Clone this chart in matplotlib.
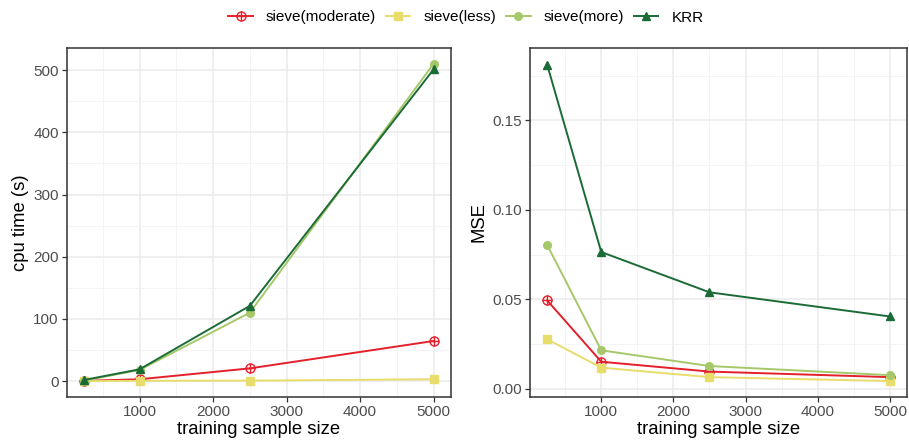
import matplotlib
matplotlib.use("Agg")
import matplotlib.pyplot as plt
from matplotlib.ticker import MultipleLocator, FixedLocator, FormatStrFormatter
from matplotlib.lines import Line2D
from matplotlib.legend_handler import HandlerTuple

plt.rcParams['font.family'] = ['Liberation Sans', 'DejaVu Sans']

n = [250, 1000, 2500, 5000]
series = ["sieve(moderate)", "sieve(less)", "sieve(more)", "KRR"]
cpu = {
    "sieve(moderate)": [0.5, 3, 20.5, 64.5],
    "sieve(less)": [0.1, 0.5, 0.8, 3],
    "sieve(more)": [1, 18, 110, 510],
    "KRR": [2, 19, 121, 501],
}
mse = {
    "sieve(moderate)": [0.0495, 0.0152, 0.0097, 0.0066],
    "sieve(less)": [0.0278, 0.0119, 0.0066, 0.0044],
    "sieve(more)": [0.0805, 0.0216, 0.0128, 0.0077],
    "KRR": [0.1812, 0.0765, 0.0540, 0.0405],
}
colors = {
    "sieve(moderate)": "#E3202B",
    "sieve(less)": "#E8DC6C",
    "sieve(more)": "#A6C86A",
    "KRR": "#1B6B37",
}
markers = {"sieve(less)": "s", "sieve(more)": "o", "KRR": "^"}

fig = plt.figure(figsize=(9.09, 4.43), dpi=100)
W, H = 909, 443
ax1 = fig.add_axes([67 / W, 1 - 397 / H, (451 - 67) / W, (397 - 48) / H])
ax2 = fig.add_axes([530 / W, 1 - 397 / H, (907 - 530) / W, (397 - 48) / H])

handles = []
for ax, data in ((ax1, cpu), (ax2, mse)):
    for s in series:
        c = colors[s]
        if s == "sieve(moderate)":
            ax.plot(n, data[s], color=c, lw=1.4, marker='o', ms=6.5,
                    mfc='none', mec=c, mew=1.0, zorder=3)
            ax.plot(n, data[s], color=c, lw=0, marker='+', ms=6.5,
                    mew=1.0, zorder=3)
            h = (Line2D([], [], color=c, lw=1.4, marker='o', ms=6.5, mfc='none', mec=c, mew=1.0),
                 Line2D([], [], color=c, lw=0, marker='+', ms=6.5, mew=1.0))
        else:
            ms = 6 if s != "sieve(more)" else 5.5
            ax.plot(n, data[s], color=c, lw=1.4, marker=markers[s], ms=ms,
                    mec=c, zorder=3)
            h = Line2D([], [], color=c, lw=1.4, marker=markers[s], ms=ms, mec=c)
        if ax is ax1:
            handles.append(h)

for ax in (ax1, ax2):
    ax.set_xlim(12.5, 5237.5)
    ax.xaxis.set_major_locator(FixedLocator([1000, 2000, 3000, 4000, 5000]))
    ax.xaxis.set_minor_locator(FixedLocator([500, 1500, 2500, 3500, 4500]))
    ax.grid(True, which='major', color='#EBEBEB', lw=1.1, zorder=0)
    ax.grid(True, which='minor', color='#F2F2F2', lw=0.6, zorder=0)
    ax.set_axisbelow(True)
    for sp in ax.spines.values():
        sp.set_color('#333333')
        sp.set_linewidth(1.1)
    ax.tick_params(which='major', length=3.5, width=0.9, color='#333333',
                   labelsize=11, labelcolor='#4D4D4D', pad=2.5)
    ax.tick_params(which='minor', length=0)
    ax.set_xlabel("training sample size", fontsize=13.3, labelpad=1)

ax1.set_ylim(-25.5, 535.5)
ax1.yaxis.set_major_locator(MultipleLocator(100))
ax1.yaxis.set_minor_locator(MultipleLocator(50))
ax1.set_ylabel("cpu time (s)", fontsize=13.3, labelpad=3)

ax2.set_ylim(-0.0045, 0.1905)
ax2.yaxis.set_major_locator(FixedLocator([0, 0.05, 0.10, 0.15]))
ax2.yaxis.set_minor_locator(FixedLocator([0.025, 0.075, 0.125, 0.175]))
ax2.yaxis.set_major_formatter(FormatStrFormatter('%.2f'))
ax2.set_ylabel("MSE", fontsize=13.3, labelpad=3)

fig.legend(handles, series, loc='center', bbox_to_anchor=(466 / W, 1 - 17.5 / H),
           ncol=4, frameon=False, fontsize=11, handlelength=1.6,
           columnspacing=0.65, handletextpad=0.85,
           handler_map={tuple: HandlerTuple(ndivide=1)})

fig.savefig("out.png", dpi=100)
